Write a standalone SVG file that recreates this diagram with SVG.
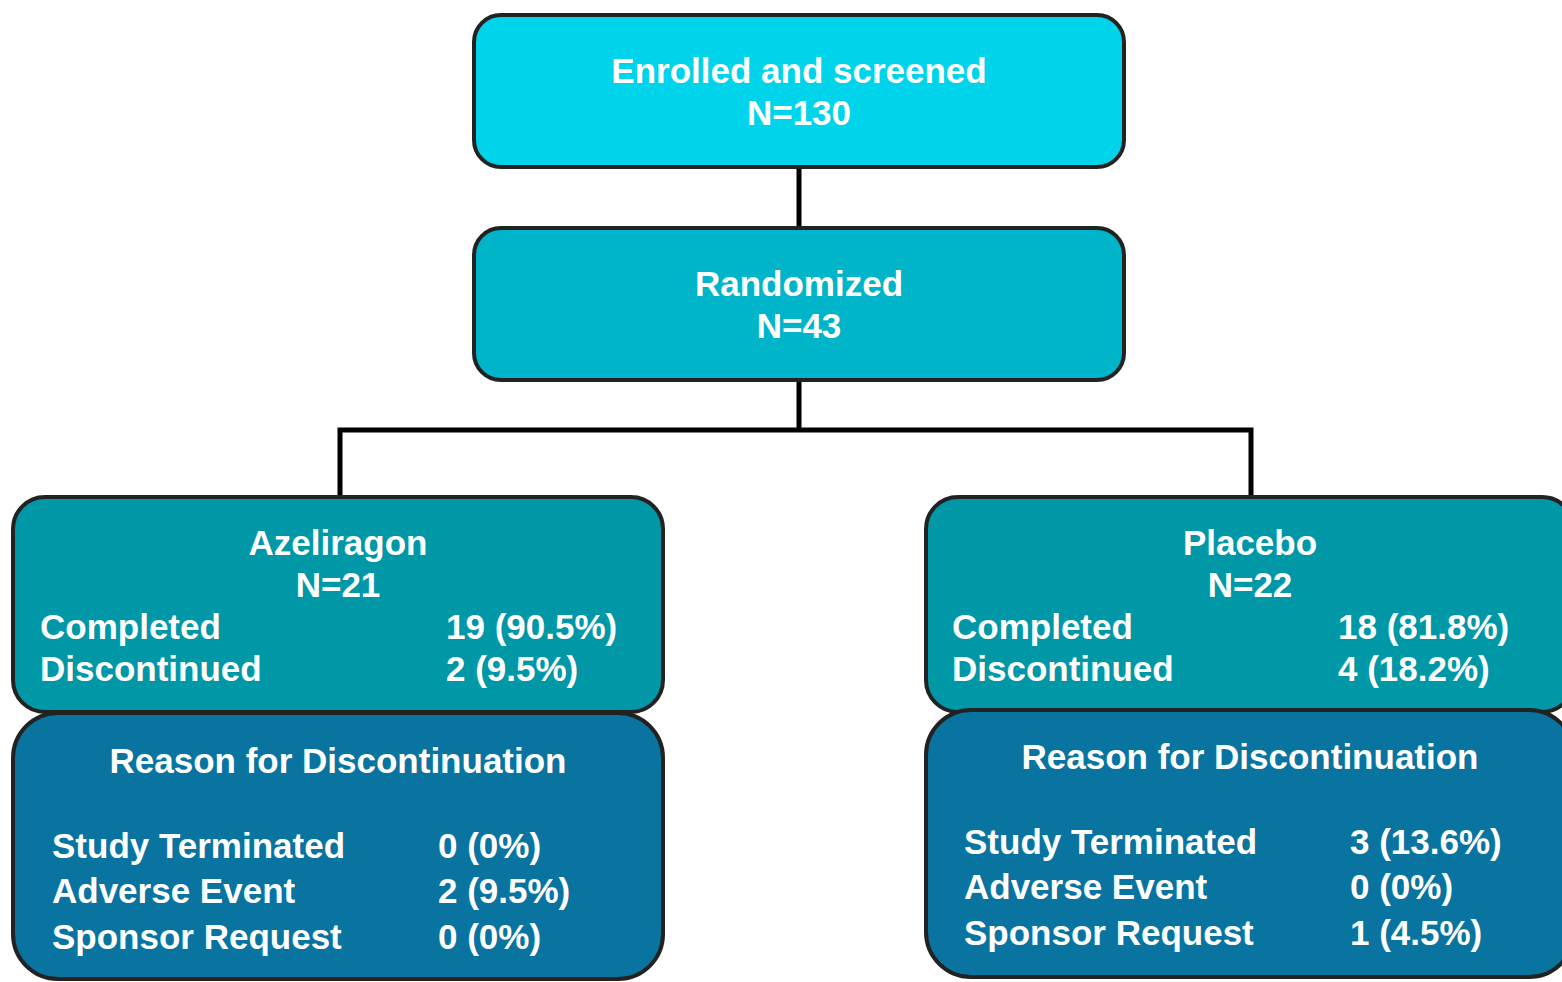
<svg xmlns="http://www.w3.org/2000/svg" width="1562" height="982" viewBox="0 0 1562 982">
<style>
.box{stroke:#222222;stroke-width:4}
.t{font-family:"Liberation Sans",Arial,sans-serif;font-weight:bold;font-size:35px;fill:#ffffff}
.c{text-anchor:middle}
.conn{stroke:#000000;stroke-width:5;fill:none}
</style>
<rect width="1562" height="982" fill="#ffffff"/>
<g id="connectors">
<path class="conn" d="M799,168 V228"/>
<path class="conn" d="M799,380 V430 M340,497 V430 H1251 V497"/>
</g>
<g id="enrolled">
<rect class="box" x="474" y="15" width="650" height="152" rx="27" fill="#00D4EA"/>
<text class="t c" x="799" y="83">Enrolled and screened</text>
<text class="t c" x="799" y="125">N=130</text>
</g>
<g id="randomized">
<rect class="box" x="474" y="228" width="650" height="152" rx="27" fill="#00B5CA"/>
<text class="t c" x="799" y="296">Randomized</text>
<text class="t c" x="799" y="338">N=43</text>
</g>
<g id="azeliragon">
<rect class="box" x="13" y="497" width="650" height="215" rx="32" fill="#0097A7"/>
<text class="t c" x="338" y="555">Azeliragon</text>
<text class="t c" x="338" y="597">N=21</text>
<text class="t" x="40" y="639">Completed</text>
<text class="t" x="446" y="639">19 (90.5%)</text>
<text class="t" x="40" y="681">Discontinued</text>
<text class="t" x="446" y="681">2 (9.5%)</text>
</g>
<g id="placebo">
<rect class="box" x="926" y="497" width="648" height="215" rx="32" fill="#0097A7"/>
<text class="t c" x="1250" y="555">Placebo</text>
<text class="t c" x="1250" y="597">N=22</text>
<text class="t" x="952" y="639">Completed</text>
<text class="t" x="1338" y="639">18 (81.8%)</text>
<text class="t" x="952" y="681">Discontinued</text>
<text class="t" x="1338" y="681">4 (18.2%)</text>
</g>
<g id="azeliragon-reasons">
<rect class="box" x="13" y="713" width="650" height="266" rx="45" fill="#08749F"/>
<text class="t c" x="338" y="773">Reason for Discontinuation</text>
<text class="t" x="52" y="858">Study Terminated</text>
<text class="t" x="438" y="858">0 (0%)</text>
<text class="t" x="52" y="903">Adverse Event</text>
<text class="t" x="438" y="903">2 (9.5%)</text>
<text class="t" x="52" y="949">Sponsor Request</text>
<text class="t" x="438" y="949">0 (0%)</text>
</g>
<g id="placebo-reasons">
<rect class="box" x="926" y="710" width="648" height="267" rx="45" fill="#08749F"/>
<text class="t c" x="1250" y="769">Reason for Discontinuation</text>
<text class="t" x="964" y="854">Study Terminated</text>
<text class="t" x="1350" y="854">3 (13.6%)</text>
<text class="t" x="964" y="899">Adverse Event</text>
<text class="t" x="1350" y="899">0 (0%)</text>
<text class="t" x="964" y="945">Sponsor Request</text>
<text class="t" x="1350" y="945">1 (4.5%)</text>
</g>
</svg>
